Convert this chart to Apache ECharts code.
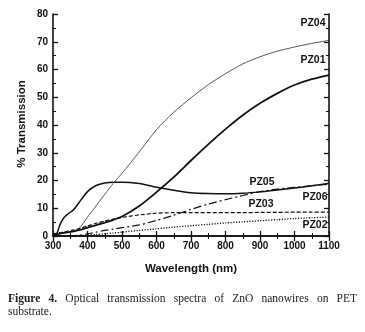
<!DOCTYPE html>
<html>
<head>
<meta charset="utf-8">
<script src="https://cdn.jsdelivr.net/npm/echarts@6/dist/echarts.min.js"></script>
<style>
  html, body { margin: 0; padding: 0; background: #fff; }
  #chart { width: 365px; height: 332px; }
</style>
</head>
<body>
<div id="chart"></div>
<script>
// wavelength grid (nm), denser at the UV edge where PZ05 jumps
const wavelength = [300, 310, 320, 330, 340, 360, 375, 400, 425, 450, 475, 500, 550, 600, 650, 700, 750, 800, 850, 900, 950, 1000, 1050, 1100];

// % transmission
const pz04 = [0.5, 0.6, 0.8, 1.0, 1.2, 1.8, 2.6, 6.8, 10.9, 15.0, 19.0, 22.6, 30.3, 38.3, 44.6, 49.8, 54.5, 58.5, 62.0, 64.6, 66.6, 68.1, 69.4, 70.5];
const pz01 = [0.5, 0.7, 0.9, 1.1, 1.3, 1.7, 2.1, 3.0, 3.9, 4.8, 5.8, 7.0, 10.8, 15.8, 21.2, 27.2, 33.0, 38.5, 43.5, 47.8, 51.4, 54.4, 56.5, 58.0];
const pz05 = [0.3, 0.6, 4.0, 6.3, 7.6, 9.5, 12.0, 16.0, 18.2, 19.1, 19.4, 19.4, 18.9, 17.6, 16.5, 15.6, 15.3, 15.2, 15.4, 15.9, 16.6, 17.3, 18.1, 19.0];
const pz06 = [0.8, 1.0, 1.2, 1.4, 1.7, 2.2, 2.6, 3.6, 4.6, 5.4, 6.1, 6.7, 7.6, 8.2, 8.4, 8.4, 8.4, 8.4, 8.4, 8.5, 8.5, 8.6, 8.6, 8.6];
const pz03 = [0, 0, 0, 0, 0, 0.1, 0.3, 0.8, 1.4, 2.0, 2.5, 3.0, 4.0, 5.6, 7.5, 9.6, 11.5, 13.1, 14.6, 16.0, 16.9, 17.5, 18.1, 18.7];
const pz02 = [0, 0, 0, 0, 0, 0, 0.1, 0.3, 0.5, 0.8, 1.1, 1.4, 2.0, 2.6, 3.2, 3.7, 4.2, 4.7, 5.1, 5.5, 5.9, 6.3, 6.6, 6.8];

const xTicks = [300, 1100, 100];
const yTicks = [0, 80, 10];

const captionLine1 = ['Figure', '4.', 'Optical', 'transmission', 'spectra', 'of', 'ZnO', 'nanowires', 'on', 'PET'];
const captionLine2 = 'substrate.';

const pairs = (ys) => wavelength.map((x, i) => [x, ys[i]]);

const chart = echarts.init(document.getElementById('chart'));

const axisFont = { fontFamily: 'Liberation Sans', fontWeight: 'bold', fontSize: 10, color: '#111' };
const frame = { show: true, lineStyle: { color: '#111', width: 1.6 } };
const majorTick = { show: true, inside: true, length: 5, lineStyle: { color: '#111', width: 1.3 } };
const minorTick = { show: true, splitNumber: 2, length: 3, lineStyle: { color: '#111', width: 1.1 } };

const xBase = {
	type: 'value',
	min: xTicks[0],
	max: xTicks[1],
	interval: xTicks[2],
	axisLine: frame,
	axisTick: majorTick,
	minorTick: minorTick,
	splitLine: { show: false },
};
const yBase = {
	type: 'value',
	min: yTicks[0],
	max: yTicks[1],
	interval: yTicks[2],
	axisLine: frame,
	axisTick: majorTick,
	minorTick: minorTick,
	splitLine: { show: false },
};

function line(name, data, width, type) {
	return {
		name: name,
		type: 'line',
		data: pairs(data),
		showSymbol: false,
		smooth: 0.25,
		lineStyle: { color: '#111', width: width, type: type },
		z: 3,
	};
}

// justify the first caption line across the text block, like the paper does
const capLeft = 8, capRight = 357, capSize = 11.5;
const ctx = document.createElement('canvas').getContext('2d');
const capWidths = captionLine1.map((w, i) => {
	ctx.font = (i < 2 ? 'bold ' : '') + capSize + 'px "Liberation Serif"';
	return ctx.measureText(w).width;
});
const sumW = capWidths.reduce((a, b) => a + b, 0);
const gap = (capRight - capLeft - sumW) / (captionLine1.length - 1);
const captionItems = [];
let cx = capLeft;
captionLine1.forEach((w, i) => {
	captionItems.push({
		type: 'text', x: cx, y: 299,
		style: {
			text: w, fill: '#222', font: (i < 2 ? 'bold ' : '') + capSize + 'px "Liberation Serif"',
			verticalAlign: 'middle',
		},
	});
	cx += capWidths[i] + gap;
});
captionItems.push({
	type: 'text', x: capLeft, y: 312,
	style: { text: captionLine2, fill: '#222', font: capSize + 'px "Liberation Serif"', verticalAlign: 'middle' },
});

const labelFont = 'bold 10.5px "Liberation Sans"';
const curveLabels = [
	['PZ04', 313, 23],
	['PZ01', 313, 60],
	['PZ05', 262, 182],
	['PZ03', 261, 204],
	['PZ06', 315, 197],
	['PZ02', 315, 225],
].map(([t, x, y]) => ({
	type: 'text', x: x, y: y, z: 10,
	style: { text: t, fill: '#111', font: labelFont, align: 'center', verticalAlign: 'middle' },
}));

chart.setOption({
	animation: false,
	backgroundColor: '#fff',
	grid: { left: 53, right: 36, top: 14, bottom: 96 },
	xAxis: [
		Object.assign({}, xBase, {
			position: 'bottom',
			axisLabel: Object.assign({ margin: 5, formatter: (v) => String(v) }, axisFont),
		}),
		Object.assign({}, xBase, { position: 'top', axisLabel: { show: false } }),
	],
	yAxis: [
		Object.assign({}, yBase, {
			position: 'left',
			axisLabel: Object.assign({ margin: 5, formatter: (v) => String(v) }, axisFont),
		}),
		Object.assign({}, yBase, { position: 'right', axisLabel: { show: false } }),
	],
	series: [
		line('PZ04', pz04, 0.7, 'solid'),
		line('PZ01', pz01, 1.8, 'solid'),
		line('PZ05', pz05, 1.5, 'solid'),
		line('PZ06', pz06, 1.2, [4, 2]),
		line('PZ03', pz03, 1.2, [8, 3, 2, 3]),
		line('PZ02', pz02, 1.3, [1.2, 1.5]),
	],
	graphic: [
		{
			type: 'text', x: 22, y: 124, rotation: Math.PI / 2,
			style: { text: '% Transmission', fill: '#111', font: 'bold 11.5px "Liberation Sans"', align: 'center', verticalAlign: 'middle' },
		},
		{
			type: 'text', x: 191, y: 269,
			style: { text: 'Wavelength (nm)', fill: '#111', font: 'bold 11.5px "Liberation Sans"', align: 'center', verticalAlign: 'middle' },
		},
	].concat(curveLabels, captionItems),
});
</script>
</body>
</html>
